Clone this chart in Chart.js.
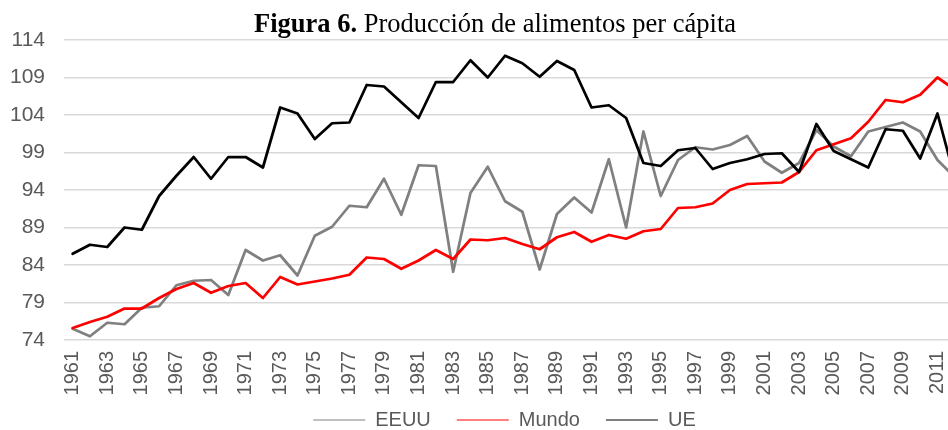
<!DOCTYPE html>
<html>
<head>
<meta charset="utf-8">
<script src="https://cdn.jsdelivr.net/npm/chart.js@4/dist/chart.umd.min.js"></script>
<style>
  html, body { margin: 0; padding: 0; background: #fff; overflow: hidden; }
  #wrap { width: 948px; height: 430px; overflow: hidden; }
</style>
</head>
<body>
<div id="wrap">
  <canvas id="chart" width="990" height="430"></canvas>
</div>
<script>
// years on the category axis
const years = [];
for (let y = 1961; y <= 2012; y++) years.push(String(y));

const yTicks = [74, 79, 84, 89, 94, 99, 104, 109, 114];

const eeuu = [
  75.5, 74.5, 76.3, 76.1, 78.3, 78.5, 81.3, 81.9, 82.0, 80.0,
  86.0, 84.6, 85.3, 82.6, 87.9, 89.1, 91.9, 91.7, 95.5, 90.7,
  97.3, 97.2, 83.1, 93.6, 97.1, 92.5, 91.1, 83.4, 90.8, 93.0,
  91.0, 98.1, 89.0, 101.8, 93.2, 98.0, 99.7, 99.4, 100.0, 101.2,
  97.8, 96.3, 97.6, 102.0, 99.8, 98.5, 101.8, 102.4, 103.0, 101.8,
  98.0, 95.7
];

const mundo = [
  75.6, 76.4, 77.1, 78.2, 78.2, 79.6, 80.8, 81.6, 80.3, 81.2,
  81.6, 79.6, 82.4, 81.4, 81.8, 82.2, 82.7, 85.0, 84.8, 83.5,
  84.6, 86.0, 84.8, 87.4, 87.3, 87.6, 86.8, 86.1, 87.7, 88.4,
  87.1, 88.0, 87.5, 88.5, 88.8, 91.6, 91.7, 92.2, 94.0, 94.8,
  94.9, 95.0, 96.4, 99.3, 100.1, 100.9, 103.1, 106.0, 105.7, 106.7,
  109.0, 107.4
];

const ue = [
  85.5, 86.7, 86.4, 89.0, 88.7, 93.2, 95.9, 98.4, 95.5, 98.4,
  98.4, 97.0, 105.0, 104.2, 100.8, 102.9, 103.0, 108.0, 107.8, 105.7,
  103.6, 108.4, 108.4, 111.3, 109.0, 111.9, 110.9, 109.1, 111.2, 110.0,
  105.0, 105.3, 103.6, 97.6, 97.2, 99.3, 99.6, 96.8, 97.6, 98.1,
  98.8, 98.9, 96.4, 102.8, 99.2, 98.1, 97.0, 102.1, 101.9, 98.2,
  104.2, 95.6
];

const textGray = '#595959';

// title with a bold lead-in, drawn by hand since the title plugin has one font
const titlePlugin = {
  id: 'mixedTitle',
  afterDraw(chart) {
    const ctx = chart.ctx;
    const bold = 'bold 26.5px "Liberation Serif", "Times New Roman", serif';
    const reg = '26.5px "Liberation Serif", "Times New Roman", serif';
    const a = 'Figura 6.';
    const b = ' Producción de alimentos per cápita';
    ctx.save();
    ctx.font = bold;
    const wa = ctx.measureText(a).width;
    ctx.font = reg;
    const wb = ctx.measureText(b).width;
    let x = 495 - (wa + wb) / 2;
    ctx.fillStyle = '#000';
    ctx.textBaseline = 'alphabetic';
    ctx.font = bold;
    ctx.fillText(a, x, 32);
    ctx.font = reg;
    ctx.fillText(b, x + wa, 32);
    ctx.restore();
  }
};

// move the legend row up under the year labels and a bit to the right
const legendShift = {
  id: 'legendShift',
  afterLayout(chart) {
    const lg = chart.legend;
    if (!lg) return;
    lg.left += 22;
    lg.right += 22;
    lg.top -= 14;
    lg.bottom -= 14;
  }
};

new Chart(document.getElementById('chart'), {
  type: 'line',
  data: {
    labels: years,
    datasets: [
      { label: 'EEUU', data: eeuu, borderColor: '#808080', backgroundColor: '#808080', order: 3 },
      { label: 'Mundo', data: mundo, borderColor: '#ff0000', backgroundColor: '#ff0000', order: 2 },
      { label: 'UE', data: ue, borderColor: '#000000', backgroundColor: '#000000', order: 1 }
    ]
  },
  options: {
    responsive: false,
    animation: false,
    devicePixelRatio: 1,
    layout: { padding: { top: 40, right: 25, bottom: -24, left: 0 } },
    elements: {
      line: { borderWidth: 2.75, tension: 0, borderJoinStyle: 'round', borderCapStyle: 'round', fill: false },
      point: { radius: 0, hoverRadius: 0 }
    },
    plugins: {
      title: { display: false },
      tooltip: { enabled: false },
      legend: {
        position: 'bottom',
        labels: {
          usePointStyle: true,
          pointStyle: 'line',
          pointStyleWidth: 52,
          padding: 26,
          color: textGray,
          font: { family: '"Liberation Sans", Arial, sans-serif', size: 20 },
          sort: (a, b) => a.datasetIndex - b.datasetIndex
        }
      }
    },
    scales: {
      x: {
        offset: true,
        grid: { display: false, drawTicks: false },
        border: { display: false },
        afterFit: (scale) => { scale.height = 58; },
        ticks: {
          autoSkip: false,
          maxRotation: 90,
          minRotation: 90,
          padding: 11,
          color: textGray,
          font: { family: '"Liberation Sans", Arial, sans-serif', size: 20 },
          callback: function (value, index) {
            return index % 2 === 0 ? years[index] : '';
          }
        }
      },
      y: {
        min: yTicks[0],
        max: yTicks[yTicks.length - 1],
        grid: { color: '#d9d9d9', lineWidth: 1.5, drawTicks: false },
        border: { display: false },
        afterFit: (scale) => { scale.width = 64; },
        afterBuildTicks: (scale) => { scale.ticks = yTicks.map(v => ({ value: v })); },
        ticks: {
          padding: 19,
          color: textGray,
          font: { family: '"Liberation Sans", Arial, sans-serif', size: 21 }
        }
      }
    }
  },
  plugins: [titlePlugin, legendShift]
});
</script>
</body>
</html>
